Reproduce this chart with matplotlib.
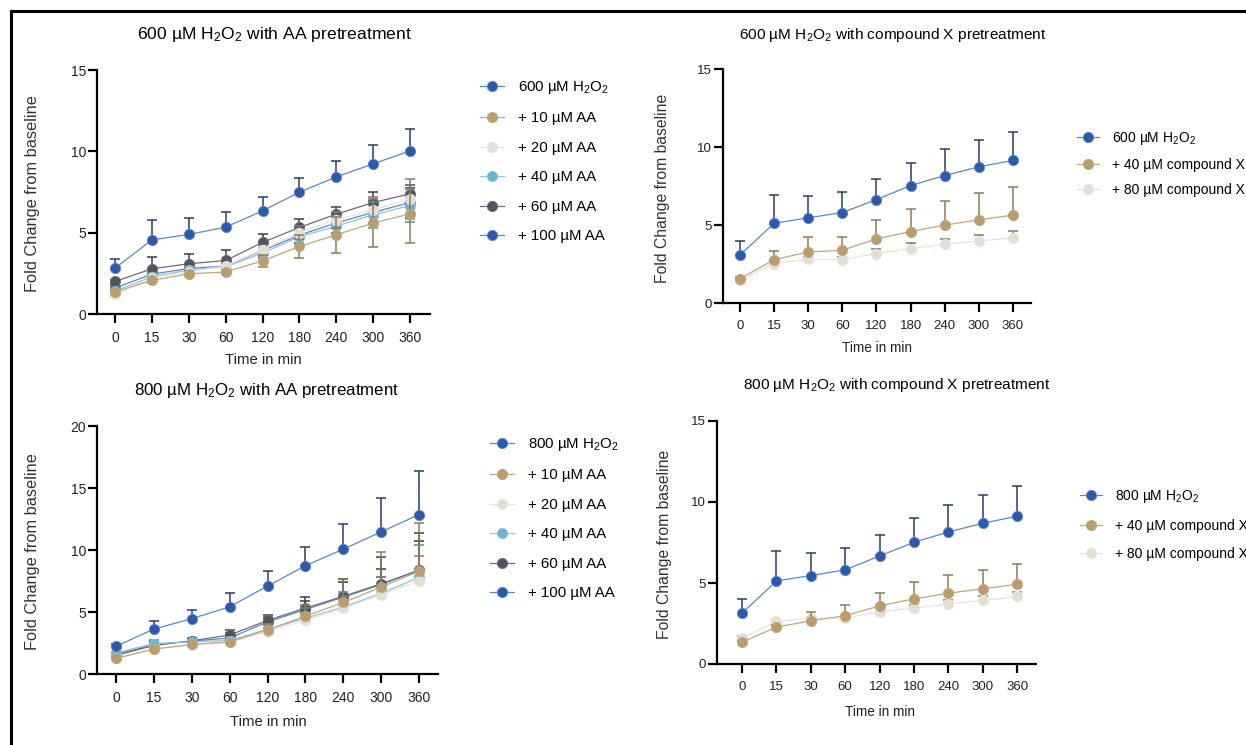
import numpy as np
import matplotlib.pyplot as plt
from matplotlib.lines import Line2D

plt.rcParams['font.family'] = ['Liberation Sans', 'DejaVu Sans']
plt.rcParams['mathtext.fontset'] = 'custom'
plt.rcParams['mathtext.rm'] = 'Liberation Sans'
plt.rcParams['mathtext.it'] = 'Liberation Sans:italic'
plt.rcParams['mathtext.bf'] = 'Liberation Sans:bold'

times = ["0", "15", "30", "60", "120", "180", "240", "300", "360"]

# --- 600 uM H2O2 with AA pretreatment
p1_h2o2 = [2.82, 4.56, 4.89, 5.34, 6.34, 7.49, 8.43, 9.23, 10.03]
p1_h2o2_err = [0.56, 1.23, 1.00, 0.90, 0.84, 0.88, 1.00, 1.18, 1.33]
p1_aa10 = [1.35, 2.07, 2.47, 2.58, 3.27, 4.15, 4.87, 5.59, 6.16]
p1_aa10_err = [0.15, 0.15, 0.15, 0.15, 0.35, 0.70, 1.10, 1.50, 1.80]
p1_aa20 = [1.20, 2.20, 2.60, 2.95, 3.95, 5.01, 5.79, 6.40, 7.06]
p1_aa20_err = [0.10, 0.15, 0.15, 0.20, 0.30, 0.40, 0.50, 0.80, 1.25]
p1_aa40 = [1.40, 2.30, 2.70, 2.90, 3.75, 4.75, 5.40, 6.10, 6.67]
p1_aa40_err = [0.10, 0.20, 0.20, 0.20, 0.30, 0.50, 0.60, 0.80, 1.00]
p1_aa60 = [2.00, 2.78, 3.09, 3.29, 4.40, 5.32, 6.14, 6.85, 7.39]
p1_aa60_err = [0.10, 0.74, 0.57, 0.62, 0.53, 0.51, 0.41, 0.62, 0.55]
p1_aa100 = [1.60, 2.45, 2.80, 2.95, 3.90, 4.85, 5.60, 6.25, 6.85]
p1_aa100_err = [0.20, 0.30, 0.30, 0.30, 0.40, 0.50, 0.60, 0.70, 0.90]

# --- 600 uM H2O2 with compound X pretreatment
p2_h2o2 = [3.08, 5.11, 5.46, 5.80, 6.63, 7.53, 8.17, 8.73, 9.14]
p2_h2o2_err = [0.92, 1.84, 1.37, 1.33, 1.35, 1.46, 1.67, 1.73, 1.84]
p2_x40 = [1.56, 2.78, 3.27, 3.38, 4.11, 4.58, 4.99, 5.33, 5.63]
p2_x40_err = [0.10, 0.54, 0.99, 0.86, 1.20, 1.43, 1.58, 1.69, 1.82]
p2_x80 = [1.46, 2.53, 2.80, 2.78, 3.17, 3.49, 3.77, 3.98, 4.17]
p2_x80_err = [0.10, 0.10, 0.15, 0.20, 0.30, 0.36, 0.36, 0.41, 0.45]

# --- 800 uM H2O2 with AA pretreatment
p3_h2o2 = [2.23, 3.62, 4.46, 5.42, 7.09, 8.73, 10.07, 11.46, 12.86]
p3_h2o2_err = [0.15, 0.62, 0.72, 1.10, 1.21, 1.55, 2.04, 2.72, 3.52]
p3_aa10 = [1.26, 2.01, 2.39, 2.58, 3.57, 4.65, 5.77, 7.00, 8.30]
p3_aa10_err = [0.10, 0.15, 0.15, 0.20, 0.40, 0.90, 1.90, 2.85, 3.90]
p3_aa20 = [1.30, 2.00, 2.35, 2.55, 3.40, 4.35, 5.30, 6.40, 7.50]
p3_aa20_err = [0.10, 0.20, 0.20, 0.20, 0.30, 0.60, 1.00, 1.40, 2.00]
p3_aa40 = [1.70, 2.45, 2.60, 2.70, 3.60, 4.50, 5.40, 6.50, 7.80]
p3_aa40_err = [0.10, 0.30, 0.20, 0.30, 0.40, 0.80, 1.20, 1.30, 2.60]
p3_aa60 = [1.50, 2.30, 2.68, 3.14, 4.32, 5.32, 6.26, 7.28, 8.35]
p3_aa60_err = [0.10, 0.30, 0.20, 0.40, 0.40, 0.90, 1.40, 2.15, 3.00]
p3_aa100 = [1.60, 2.35, 2.65, 2.90, 4.20, 5.20, 6.20, 7.20, 8.40]
p3_aa100_err = [0.10, 0.30, 0.20, 0.40, 0.40, 0.70, 1.20, 1.30, 2.30]

# --- 800 uM H2O2 with compound X pretreatment
p4_h2o2 = [3.14, 5.13, 5.46, 5.81, 6.67, 7.51, 8.15, 8.68, 9.13]
p4_h2o2_err = [0.88, 1.85, 1.37, 1.37, 1.29, 1.50, 1.68, 1.77, 1.83]
p4_x40 = [1.35, 2.28, 2.67, 2.98, 3.59, 4.02, 4.37, 4.64, 4.92]
p4_x40_err = [0.10, 0.10, 0.55, 0.69, 0.82, 1.03, 1.13, 1.19, 1.24]
p4_x80 = [1.60, 2.63, 2.83, 2.83, 3.24, 3.45, 3.71, 3.92, 4.17]
p4_x80_err = [0.10, 0.10, 0.10, 0.15, 0.20, 0.20, 0.25, 0.25, 0.30]

# colours: (marker, line, errorbar)
BLUE = ('#2d59a8', '#5b86cf', '#2a3d66')
TAN = ('#b99d6e', '#c2a77c', '#8f7a55')
BEIGE = ('#e4dfd4', '#e8e4da', '#7d7a73')
LBLUE = ('#6db3d3', '#8cc4de', '#4f8fae')
GRAY = ('#50545b', '#6a6e75', '#3c3f44')

W, H = 1246, 745
fig = plt.figure(figsize=(W / 100, H / 100), dpi=100)


def px_axes(left, right, top, bottom):
    return fig.add_axes([left / W, 1 - bottom / H, (right - left) / W, (bottom - top) / H])


def series(ax, vals, err, col, both=False, z=3):
    x = np.arange(len(vals))
    vals = np.array(vals)
    err = np.array(err)
    lower = err if both else np.zeros_like(err)
    ax.errorbar(x, vals, yerr=[lower, err], fmt='none', ecolor=col[2],
                elinewidth=1.1, capsize=3.5, capthick=1.1, zorder=z, clip_on=False)
    ln, = ax.plot(x, vals, color=col[1], lw=0.9, marker='o', ms=7.4,
                  mfc=col[0], mec=col[1], mew=0.6, zorder=z + 0.5, clip_on=False)
    return ln


def style(ax, xlim, ymax, ystep, tick_fs):
    ax.set_xlim(*xlim)
    ax.set_ylim(0, ymax)
    ax.set_xticks(range(len(times)))
    ax.set_xticklabels(times)
    ax.set_yticks(np.arange(0, ymax + 0.1, ystep))
    for s in ['top', 'right']:
        ax.spines[s].set_visible(False)
    for s in ['left', 'bottom']:
        ax.spines[s].set_linewidth(1.6)
    ax.tick_params(width=1.6, length=6.5, labelsize=tick_fs, colors='black', labelcolor='#222222')
    ax.tick_params(axis='y', pad=1.5)
    ax.tick_params(axis='x', pad=5.5)


def labels(xc, xy, yx, yc, xfs, yfs):
    fig.text(xc / W, 1 - xy / H, "Time in min", ha='center', va='center', fontsize=xfs, color='#222222')
    fig.text(yx / W, 1 - yc / H, "Fold Change from baseline", ha='center', va='center',
             rotation=90, fontsize=yfs, color='#333333')


def legend(ax, handles, names, x, y, fs, spacing):
    ax.legend(handles, names, loc='upper left', bbox_to_anchor=(x / W, 1 - y / H),
              bbox_transform=fig.transFigure, frameon=False, fontsize=fs,
              handlelength=1.6, handletextpad=0.9, labelspacing=spacing,
              borderpad=0, borderaxespad=0)


h2 = r"H$_2$O$_2$"

# panel 1
ax1 = px_axes(97, 430, 70, 314)
l100 = series(ax1, p1_aa100, p1_aa100_err, BLUE, both=True, z=3)
l60 = series(ax1, p1_aa60, p1_aa60_err, GRAY, both=True, z=4)
l40 = series(ax1, p1_aa40, p1_aa40_err, LBLUE, both=True, z=5)
l20 = series(ax1, p1_aa20, p1_aa20_err, BEIGE, both=True, z=6)
l10 = series(ax1, p1_aa10, p1_aa10_err, TAN, both=True, z=7)
lh = series(ax1, p1_h2o2, p1_h2o2_err, BLUE, z=8)
style(ax1, (-0.49, 8.54), 15, 5, 10)
labels(263, 360, 33, 194, 10.7, 11.8)
fig.text(274 / W, 1 - 35 / H, "600 µM " + h2 + " with AA pretreatment", ha='center', va='center', fontsize=12.6)
legend(ax1, [lh, l10, l20, l40, l60, l100],
       ["600 µM " + h2, "+ 10 µM AA", "+ 20 µM AA", "+ 40 µM AA", "+ 60 µM AA", "+ 100 µM AA"],
       480, 79, 10.8, 1.03)

# panel 2
ax2 = px_axes(723, 1031, 69, 303)
m80 = series(ax2, p2_x80, p2_x80_err, BEIGE, z=3)
m40 = series(ax2, p2_x40, p2_x40_err, TAN, z=4)
mh = series(ax2, p2_h2o2, p2_h2o2_err, BLUE, z=5)
style(ax2, (-0.5, 8.53), 15, 5, 9.5)
labels(877, 348, 663, 188, 9.8, 11.3)
fig.text(893 / W, 1 - 35 / H, "600 µM " + h2 + " with compound X pretreatment", ha='center', va='center', fontsize=11.1)
legend(ax2, [mh, m40, m80], ["600 µM " + h2, "+ 40 µM compound X", "+ 80 µM compound X"],
       1077, 130, 10, 0.79)

# panel 3
ax3 = px_axes(97, 438, 426, 674)
n100 = series(ax3, p3_aa100, p3_aa100_err, BLUE, z=3)
n60 = series(ax3, p3_aa60, p3_aa60_err, GRAY, z=4)
n40 = series(ax3, p3_aa40, p3_aa40_err, LBLUE, z=5)
n20 = series(ax3, p3_aa20, p3_aa20_err, BEIGE, z=6)
n10 = series(ax3, p3_aa10, p3_aa10_err, TAN, z=7)
nh = series(ax3, p3_h2o2, p3_h2o2_err, BLUE, z=8)
style(ax3, (-0.5, 8.5), 20, 5, 10)
labels(268, 722, 33, 552, 10.7, 11.8)
fig.text(267 / W, 1 - 391 / H, "800 µM " + h2 + " with AA pretreatment", ha='center', va='center', fontsize=12.2)
legend(ax3, [nh, n10, n20, n40, n60, n100],
       ["800 µM " + h2, "+ 10 µM AA", "+ 20 µM AA", "+ 40 µM AA", "+ 60 µM AA", "+ 100 µM AA"],
       490, 436, 10.8, 1.03)

# panel 4
ax4 = px_axes(717, 1036, 421, 664)
k80 = series(ax4, p4_x80, p4_x80_err, BEIGE, z=3)
k40 = series(ax4, p4_x40, p4_x40_err, TAN, z=4)
kh = series(ax4, p4_h2o2, p4_h2o2_err, BLUE, z=5)
style(ax4, (-0.73, 8.55), 15, 5, 9.5)
labels(880, 712, 665, 544, 9.8, 11.3)
fig.text(897 / W, 1 - 385 / H, "800 µM " + h2 + " with compound X pretreatment", ha='center', va='center', fontsize=11.1)
legend(ax4, [kh, k40, k80], ["800 µM " + h2, "+ 40 µM compound X", "+ 80 µM compound X"],
       1080, 488, 10, 1.0)

# frame lines at left and top of the image
fig.add_artist(Line2D([10.5 / W, 10.5 / W], [0, 1 - 11 / H], color='black', lw=2.2))
fig.add_artist(Line2D([10.5 / W, 1], [1 - 11 / H, 1 - 11 / H], color='black', lw=2.2))

fig.savefig("out.png", dpi=100)
